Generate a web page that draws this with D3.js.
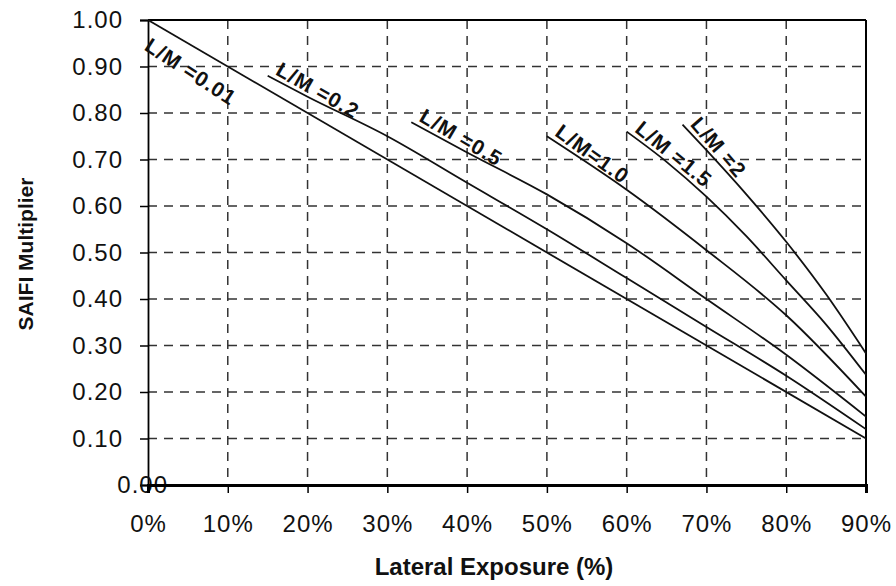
<!DOCTYPE html>
<html>
<head>
<meta charset="utf-8">
<script src="https://cdn.jsdelivr.net/npm/d3@7"></script>
<style>
  body { margin: 0; background: #fff; }
  svg { display: block; font-family: "Liberation Sans", Arial, sans-serif; }
</style>
</head>
<body>
<svg id="chart" width="896" height="586"></svg>
<script>
// Lateral exposure (%) vs SAIFI multiplier, one curve per L/M ratio
const ratios = ['L/M =0.01', 'L/M =0.2', 'L/M =0.5', 'L/M=1.0', 'L/M =1.5', 'L/M =2'];

const lm001 = [[0, 1.00], [90, 0.10]];
const lm02 = [[15, 0.88], [20, 0.835], [30, 0.75], [40, 0.65], [50, 0.55], [60, 0.445], [70, 0.34], [80, 0.235], [90, 0.12]];
const lm05 = [[33, 0.78], [40, 0.715], [50, 0.625], [60, 0.52], [70, 0.40], [80, 0.28], [90, 0.147]];
const lm10 = [[50, 0.75], [60, 0.635], [70, 0.505], [80, 0.365], [90, 0.19]];
const lm15 = [[60, 0.76], [65, 0.695], [70, 0.62], [75, 0.535], [80, 0.44], [85, 0.345], [90, 0.237]];
const lm20 = [[67, 0.775], [70, 0.72], [75, 0.625], [80, 0.523], [85, 0.41], [90, 0.283]];

const xTicks = [0, 10, 20, 30, 40, 50, 60, 70, 80, 90];
const yTicks = [0, 0.1, 0.2, 0.3, 0.4, 0.5, 0.6, 0.7, 0.8, 0.9, 1.0];

const series = [lm001, lm02, lm05, lm10, lm15, lm20];

const svg = d3.select('#chart');
const plotLeft = 148, plotRight = 866, plotTop = 20, plotBottom = 485;

const x = d3.scaleLinear().domain([0, 90]).range([plotLeft, plotRight]);
const y = d3.scaleLinear().domain([0, 1]).range([plotBottom, plotTop]);

// grid
const grid = svg.append('g').attr('class', 'grid')
  .attr('stroke', '#333').attr('stroke-width', 1.5).attr('stroke-dasharray', '9,7');

grid.selectAll('line.h')
  .data(yTicks.filter(d => d > 0 && d < 1))
  .join('line')
    .attr('class', 'h')
    .attr('x1', plotLeft).attr('x2', plotRight)
    .attr('y1', d => y(d)).attr('y2', d => y(d));

grid.selectAll('line.v')
  .data(xTicks.filter(d => d > 0 && d < 90))
  .join('line')
    .attr('class', 'v')
    .attr('y1', plotTop).attr('y2', plotBottom)
    .attr('x1', d => x(d)).attr('x2', d => x(d));

// frame
svg.append('line').attr('x1', plotLeft).attr('x2', plotRight).attr('y1', plotTop).attr('y2', plotTop)
  .attr('stroke', '#000').attr('stroke-width', 1.8);
svg.append('line').attr('x1', plotRight).attr('x2', plotRight).attr('y1', plotTop).attr('y2', plotBottom)
  .attr('stroke', '#000').attr('stroke-width', 2);

// axes
const yAxis = svg.append('g')
  .attr('transform', `translate(${plotLeft},0)`)
  .call(d3.axisLeft(y).tickValues(yTicks).tickSize(8).tickPadding(17).tickFormat(d3.format('.2f')));

const xAxis = svg.append('g')
  .attr('transform', `translate(0,${plotBottom})`)
  .call(d3.axisBottom(x).tickValues(xTicks).tickSize(8).tickPadding(22).tickFormat(d => d + '%'));

[yAxis, xAxis].forEach(a => {
  a.select('.domain').attr('stroke', '#000');
  a.selectAll('.tick line').attr('stroke', '#000').attr('stroke-width', 1.5);
  a.selectAll('.tick text')
    .attr('fill', '#111')
    .style('font-size', '24px')
    .style('letter-spacing', '1px');
});
yAxis.select('.domain').attr('stroke-width', 1.8);
xAxis.select('.domain').attr('stroke-width', 3);
// the 0.00 label sits over the axis in the original
yAxis.selectAll('.tick text').filter(d => d === 0).attr('x', 20);

// curves
const line = d3.line()
  .x(d => x(d[0]))
  .y(d => y(d[1]))
  .curve(d3.curveMonotoneX);

svg.append('g').selectAll('path')
  .data(series)
  .join('path')
    .attr('d', line)
    .attr('fill', 'none')
    .attr('stroke', '#111')
    .attr('stroke-width', 1.8);

// curve labels, rotated along the start of each curve
svg.append('g').selectAll('text')
  .data(series)
  .join('text')
    .attr('transform', (d, i) => {
      const x0 = x(d[0][0]), y0 = y(d[0][1]);
      const x1 = x(d[1][0]), y1 = y(d[1][1]);
      const ang = Math.atan2(y1 - y0, x1 - x0) * 180 / Math.PI + (i === 0 ? 3 : 2);
      return `translate(${x0},${y0}) rotate(${ang})`;
    })
    .attr('x', (d, i) => i === 0 ? 12 : 5)
    .attr('y', (d, i) => i === 0 ? 27 : -5)
    .attr('font-size', 21)
    .attr('font-weight', 'bold')
    .attr('letter-spacing', '1px')
    .attr('fill', '#111')
    .text((d, i) => ratios[i]);

// axis titles
svg.append('text')
  .attr('x', 494).attr('y', 575)
  .attr('text-anchor', 'middle')
  .attr('font-size', 24).attr('font-weight', 'bold').attr('fill', '#111')
  .text('Lateral Exposure (%)');

svg.append('text')
  .attr('transform', 'translate(33,254) rotate(-90)')
  .attr('text-anchor', 'middle')
  .attr('font-size', 21).attr('font-weight', 'bold').attr('fill', '#111')
  .text('SAIFI Multiplier');
</script>
</body>
</html>
